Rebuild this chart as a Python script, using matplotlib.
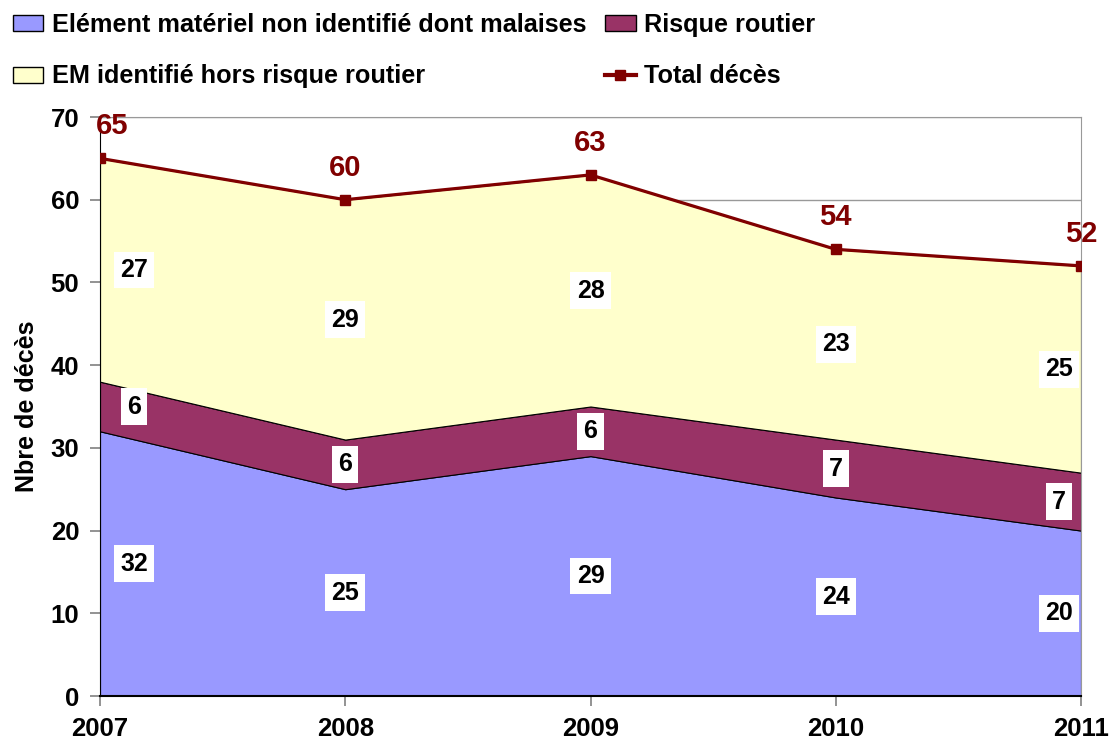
import matplotlib
matplotlib.use("Agg")
import matplotlib.pyplot as plt
import numpy as np
from matplotlib.lines import Line2D
from matplotlib.patches import Patch

plt.rcParams['font.family'] = ['Liberation Sans', 'DejaVu Sans']
plt.rcParams['font.weight'] = 'bold'

years = [2007, 2008, 2009, 2010, 2011]
em_non_identifie = [32, 25, 29, 24, 20]
risque_routier = [6, 6, 6, 7, 7]
em_identifie = [27, 29, 28, 23, 25]
total_deces = [65, 60, 63, 54, 52]

series_names = ["Elément matériel non identifié dont malaises",
                "Risque routier",
                "EM identifié hors risque routier"]
series_colors = ["#9999FF", "#993366", "#FFFFCC"]
line_color = "#800000"

fig = plt.figure(figsize=(11.09, 7.44), dpi=100)
ax = fig.add_axes([100 / 1109, 48 / 744, 981 / 1109, 579 / 744])

stack = np.vstack([em_non_identifie, risque_routier, em_identifie])
ax.stackplot(years, stack, colors=series_colors, edgecolor="black",
             linewidth=0.8, zorder=2)
ax.plot(years, total_deces, color=line_color, lw=2.3, marker="s",
        markersize=7, zorder=4)

# band labels in white boxes at the middle of each layer
cum = np.cumsum(stack, axis=0)
for i in range(len(years)):
    dx = 0
    if i == 0:
        dx = 34
    elif i == len(years) - 1:
        dx = -22
    for k in range(stack.shape[0]):
        mid = cum[k, i] - stack[k, i] / 2
        ax.annotate(str(stack[k, i]), (years[i], mid), xytext=(dx, 0),
                    textcoords="offset pixels", ha="center", va="center",
                    fontsize=18, fontweight="bold", zorder=5,
                    bbox=dict(boxstyle="square,pad=0.25", fc="white", ec="none"))

for i, v in enumerate(total_deces):
    dx = 12 if i == 0 else 0
    ax.annotate(str(v), (years[i], v), xytext=(dx, 32), textcoords="offset pixels",
                ha="center", va="center", fontsize=21, fontweight="bold",
                color=line_color, zorder=5)

ax.set_xlim(2007, 2011)
ax.set_ylim(0, 70)
ax.set_yticks(range(0, 71, 10))
ax.set_xticks(years)
ax.yaxis.grid(True, color="#999999", lw=1, zorder=0)
ax.set_axisbelow(True)
ax.tick_params(axis="both", direction="out", length=7, width=1.2, color="#808080",
               labelsize=18.5)
ax.tick_params(axis="x", pad=8)
ax.tick_params(axis="y", pad=8)
for lab in ax.get_xticklabels() + ax.get_yticklabels():
    lab.set_fontweight("bold")
ax.spines["left"].set_color("black")
ax.spines["bottom"].set_color("black")
ax.spines["bottom"].set_linewidth(1.5)
ax.spines["top"].set_color("#999999")
ax.spines["right"].set_color("#999999")
ax.set_ylabel("Nbre de décès", fontsize=18, fontweight="bold", labelpad=8)

handles = [Patch(fc=series_colors[0], ec="black", lw=1),
           Patch(fc=series_colors[2], ec="black", lw=1),
           Patch(fc=series_colors[1], ec="black", lw=1),
           Line2D([], [], color=line_color, lw=3, marker="s", markersize=7)]
labels = [series_names[0], series_names[2], series_names[1], "Total décès"]
fig.legend(handles, labels, ncol=2, loc="upper left", bbox_to_anchor=(0.0, 1.0),
           frameon=False, prop={"weight": "bold", "size": 18.2},
           handlelength=1.2, handleheight=0.6, handletextpad=0.35,
           columnspacing=0.75, labelspacing=1.1, borderaxespad=0.1)

fig.savefig("out.png", dpi=100)
